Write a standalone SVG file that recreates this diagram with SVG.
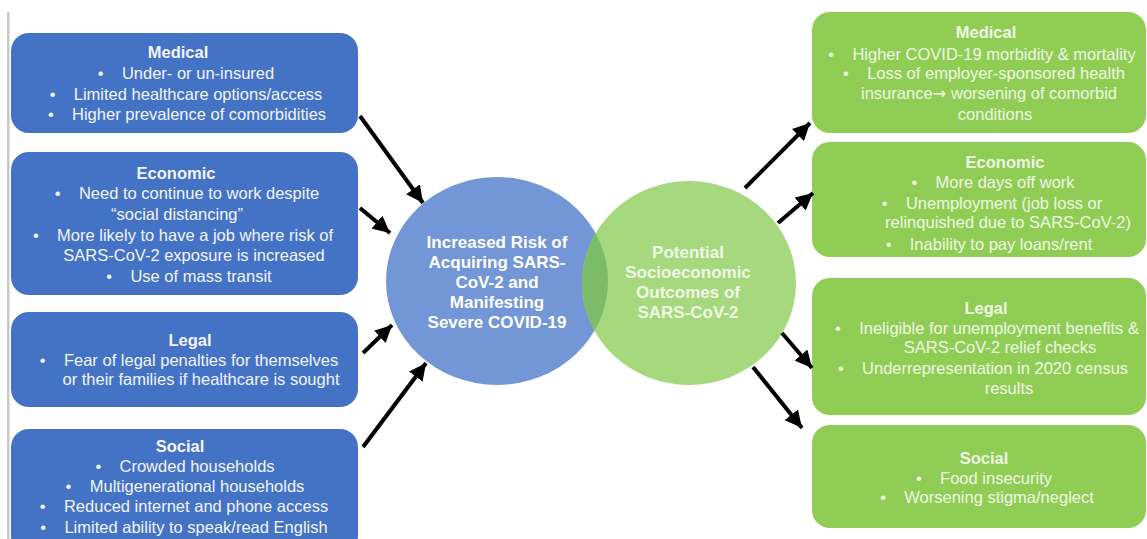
<svg xmlns="http://www.w3.org/2000/svg" width="1147" height="539" viewBox="0 0 1147 539">
<defs>
<style>
.lb{fill:#4472c4}
.rb{fill:#90cd55}
.t{font-family:"Liberation Sans",Arial,sans-serif;font-size:16.5px;text-anchor:middle}
.lt{fill:#f2f5fc}
.rt{fill:#eef7e4}
.h{font-weight:bold}
.ar{font-family:"DejaVu Sans",sans-serif}
.c{font-family:"Liberation Sans",Arial,sans-serif;font-size:17px;font-weight:bold;text-anchor:middle}
.arr{stroke:#000;stroke-width:4;fill:none;marker-end:url(#ah)}
</style>
<marker id="ah" markerUnits="userSpaceOnUse" markerWidth="19" markerHeight="17" refX="17" refY="8.5" orient="auto">
<path d="M0,0 L17,8.5 L0,17 Z" fill="#000"/>
</marker>
<clipPath id="gclip"><ellipse cx="689" cy="283" rx="107" ry="102"/></clipPath>
</defs>
<rect width="1147" height="539" fill="#fff"/>
<rect x="7" y="12" width="2.5" height="527" fill="#c8c8c8"/>

<g id="circle-risk">
<ellipse cx="497" cy="281" rx="111" ry="104" fill="#7396d6"/>
</g>
<g id="circle-outcomes">
<ellipse cx="689" cy="283" rx="107" ry="102" fill="#a6d87e"/>
<ellipse cx="497" cy="281" rx="111" ry="104" fill="#7cbb68" clip-path="url(#gclip)"/>
</g>
<g id="circle-risk-text">
<text class="c" fill="#ffffff"><tspan x="497" y="248">Increased Risk of</tspan><tspan x="497" y="268">Acquiring SARS-</tspan><tspan x="497" y="288">CoV-2 and</tspan><tspan x="497" y="308">Manifesting</tspan><tspan x="497" y="328">Severe COVID-19</tspan></text>
</g>
<g id="circle-outcomes-text">
<text class="c" fill="#f0f8e6"><tspan x="688" y="258">Potential</tspan><tspan x="688" y="278">Socioeconomic</tspan><tspan x="688" y="298">Outcomes of</tspan><tspan x="688" y="318">SARS-CoV-2</tspan></text>
</g>

<g id="left-medical">
<rect class="lb" x="11" y="33" width="347" height="100" rx="18"/>
<text class="t lt"><tspan class="h" x="178" y="58">Medical</tspan><tspan x="186" y="79">•&#160;&#160;&#160;&#160;Under- or un-insured</tspan><tspan x="186" y="100">•&#160;&#160;&#160;&#160;Limited healthcare options/access</tspan><tspan x="187" y="120">•&#160;&#160;&#160;&#160;Higher prevalence of comorbidities</tspan></text>
</g>
<g id="left-economic">
<rect class="lb" x="11" y="152" width="347" height="143" rx="18"/>
<text class="t lt"><tspan class="h" x="176" y="179">Economic</tspan><tspan x="187" y="199">•&#160;&#160;&#160;&#160;Need to continue to work despite</tspan><tspan x="177" y="220">“social distancing”</tspan><tspan x="183" y="241">•&#160;&#160;&#160;&#160;More likely to have a job where risk of</tspan><tspan x="194" y="261">SARS-CoV-2 exposure is increased</tspan><tspan x="189" y="282">•&#160;&#160;&#160;&#160;Use of mass transit</tspan></text>
</g>
<g id="left-legal">
<rect class="lb" x="11" y="312" width="347" height="95" rx="18"/>
<text class="t lt"><tspan class="h" x="190" y="346">Legal</tspan><tspan x="189" y="366">•&#160;&#160;&#160;&#160;Fear of legal penalties for themselves</tspan><tspan x="201" y="385">or their families if healthcare is sought</tspan></text>
</g>
<g id="left-social">
<rect class="lb" x="11" y="429" width="347" height="125" rx="18"/>
<text class="t lt"><tspan class="h" x="180" y="452">Social</tspan><tspan x="185" y="472">•&#160;&#160;&#160;&#160;Crowded households</tspan><tspan x="185" y="492">•&#160;&#160;&#160;&#160;Multigenerational households</tspan><tspan x="184" y="512">•&#160;&#160;&#160;&#160;Reduced internet and phone access</tspan><tspan x="184" y="533">•&#160;&#160;&#160;&#160;Limited ability to speak/read English</tspan></text>
</g>

<g id="right-medical">
<rect class="rb" x="812" y="12" width="334" height="121" rx="18"/>
<text class="t rt"><tspan class="h" x="986" y="38">Medical</tspan><tspan x="982" y="60">•&#160;&#160;&#160;&#160;Higher COVID-19 morbidity &amp; mortality</tspan><tspan x="984" y="79">•&#160;&#160;&#160;&#160;Loss of employer-sponsored health</tspan><tspan x="989" y="99">insurance<tspan class="ar">→</tspan> worsening of comorbid</tspan><tspan x="995" y="120">conditions</tspan></text>
</g>
<g id="right-economic">
<rect class="rb" x="812" y="142" width="334" height="115" rx="18"/>
<text class="t rt"><tspan class="h" x="1005" y="168">Economic</tspan><tspan x="993" y="188">•&#160;&#160;&#160;&#160;More days off work</tspan><tspan x="992" y="209">•&#160;&#160;&#160;&#160;Unemployment (job loss or</tspan><tspan x="1008" y="228">relinquished due to SARS-CoV-2)</tspan><tspan x="989" y="250">•&#160;&#160;&#160;&#160;Inability to pay loans/rent</tspan></text>
</g>
<g id="right-legal">
<rect class="rb" x="812" y="278" width="334" height="137" rx="18"/>
<text class="t rt"><tspan class="h" x="986" y="314">Legal</tspan><tspan x="987" y="334">•&#160;&#160;&#160;&#160;Ineligible for unemployment benefits &amp;</tspan><tspan x="1000" y="353">SARS-CoV-2 relief checks</tspan><tspan x="983" y="374">•&#160;&#160;&#160;&#160;Underrepresentation in 2020 census</tspan><tspan x="1009" y="394">results</tspan></text>
</g>
<g id="right-social">
<rect class="rb" x="812" y="425" width="334" height="103" rx="18"/>
<text class="t rt"><tspan class="h" x="984" y="464">Social</tspan><tspan x="984" y="484">•&#160;&#160;&#160;&#160;Food insecurity</tspan><tspan x="987" y="503">•&#160;&#160;&#160;&#160;Worsening stigma/neglect</tspan></text>
</g>

<g id="connectors">
<line class="arr" x1="360" y1="116" x2="423" y2="203"/>
<line class="arr" x1="360" y1="208" x2="390" y2="233"/>
<line class="arr" x1="363" y1="353" x2="392" y2="325"/>
<line class="arr" x1="363" y1="447" x2="426" y2="363"/>
<line class="arr" x1="745" y1="188" x2="810" y2="123"/>
<line class="arr" x1="778" y1="223" x2="813" y2="193"/>
<line class="arr" x1="782" y1="333" x2="812" y2="368"/>
<line class="arr" x1="753" y1="367" x2="802" y2="428"/>
</g>
</svg>
